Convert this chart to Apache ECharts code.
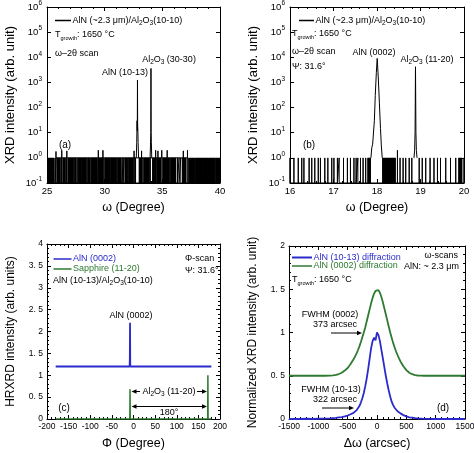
<!DOCTYPE html>
<html><head><meta charset="utf-8">
<script src="https://cdn.jsdelivr.net/npm/echarts@6/dist/echarts.min.js"></script>
<style>html,body{margin:0;padding:0;background:#fff}#c{width:474px;height:453px}</style>
</head><body><div id="c"></div>
<script>
// ---------------- DATA ----------------
// Panel (a): omega-2theta scan, AlN(10-13)/Al2O3(30-30)
const aXTicks = [25, 30, 35, 40];
const aYTickExps = [-1, 0, 1, 2, 3, 4, 5, 6];
// dense noise stretches (counts alternating 0/1) [start, end] in degrees
const aNoiseBlocks = [[25.0,25.62],[25.84,26.18],[26.34,26.62],[26.78,27.3],[27.38,27.55],[27.7,28.02],[28.12,28.42],[28.52,28.78],[28.9,29.35],[29.5,29.9],[30.02,30.45],[30.52,31.0],[31.1,31.42],[31.75,31.95],[32.05,32.48],[32.58,32.72],[32.96,33.25],[33.38,33.9],[34.12,34.35],[34.48,34.9],[35.05,35.6],[35.7,36.18],[36.72,37.05],[37.25,37.75],[37.85,38.35],[38.45,38.95],[39.05,39.55],[39.62,40.0]];
// isolated single counts (value 1)
const aNoiseSingles = [25.7, 25.78, 26.25, 26.7, 27.34, 27.62, 28.07, 28.47, 28.85, 29.42, 29.45, 29.95, 30.48, 31.05, 31.5, 31.6, 31.68, 32.0, 32.53, 33.32, 33.95, 34.4, 34.42, 34.98, 35.65, 36.3, 36.45, 36.6, 36.82, 37.15, 37.8, 38.4, 39.0, 39.58];
// isolated spikes above 1 count [deg, counts]
const aSpikes = [[25.78,1.8],[26.28,2.0],[26.72,1.9],[29.45,2.0],[29.85,2.0],[32.55,1.9],[33.2,1.9],[34.42,2.0],[34.62,1.9],[34.95,2.0],[35.42,2.0],[36.82,1.9],[37.18,2.0]];
const aPeakAlN = [[32.74,1],[32.78,4],[32.81,30],[32.83,12],[32.845,1250],[32.86,20],[32.88,12],[32.9,4],[32.94,1]];
const aPeakAl2O3 = [[33.94,1],[33.97,3],[34.0,10],[34.015,3600],[34.03,10],[34.05,4],[34.08,1]];

// Panel (b): omega-2theta scan at Psi 31.6
const bXTicks = [16, 17, 18, 19, 20];
const bNoiseBlocks = [[17.78,17.86],[18.12,18.43],[19.87,19.96]];
const bNoiseSingles = [16.0, 16.09, 16.19, 16.27, 16.32, 16.44, 16.5, 16.57, 16.65, 16.7, 16.8, 16.87, 16.96, 17.01, 17.09, 17.13, 17.23, 17.32, 17.39, 17.47, 17.52, 17.56, 17.62, 17.68, 17.74, 18.47, 18.53, 18.6, 18.66, 18.74, 18.8, 18.97, 19.04, 19.12, 19.22, 19.31, 19.39, 19.46, 19.58, 19.69, 19.81, 20.0];
const bSpikes = [[18.47,2.0]];
const bPeakAlN = [[17.86,1],[17.88,2.5],[17.9,3.5],[17.92,4],[17.94,30],[17.96,300],[17.985,2500],[18.005,9000],[18.03,1500],[18.055,150],[18.08,15],[18.1,3],[18.12,1]];
const bPeakAl2O3 = [[18.85,1],[18.865,2],[18.875,10],[18.885,4200],[18.895,10],[18.905,2],[18.92,1]];

// Panel (c): Phi scans
const cXTicks = [-200, -150, -100, -50, 0, 50, 100, 150, 200];
const cYTickLabels = ['0', '0. 5', '1', '1. 5', '2', '2. 5', '3', '3. 5', '4'];
const cAlN = [[-180,1.2],[-9,1.2],[-8.5,1.38],[-8,2.2],[-7.5,1.2],[180,1.2]];
const cSapphire = [[-180,0],[-8.5,0],[-8,0.68],[-7.5,0],[171.5,0],[172,1.0],[172.5,0],[180,0]];

// Panel (d): omega rocking curves (arcsec)
const dXTicks = [-1500, -1000, -500, 0, 500, 1000, 1500];
const dYTickLabels = ['0', '0. 5', '1', '1. 5', '2'];
const dOmega = [-1500,-1400,-1300,-1200,-1100,-1000,-900,-800,-750,-700,-650,-600,-550,-500,-450,-400,-375,-350,-325,-300,-275,-250,-225,-200,-175,-150,-125,-100,-75,-50,-25,0,25,50,75,100,125,150,175,200,225,250,275,300,325,350,375,400,450,500,550,600,650,700,750,800,900,1000,1100,1200,1300,1400,1500];
const d1013 = [0,0,0,0.003,0,0.003,0.005,0.008,0.01,0.012,0.018,0.022,0.03,0.04,0.055,0.07,0.085,0.1,0.125,0.15,0.19,0.24,0.3,0.38,0.47,0.58,0.7,0.82,0.9,0.94,0.91,1.0,0.97,0.9,0.8,0.7,0.6,0.5,0.41,0.33,0.26,0.2,0.16,0.13,0.11,0.09,0.075,0.065,0.045,0.03,0.02,0.015,0.01,0.006,0.004,0.002,0.002,0,0,0,0,0,0];
const d0002 = [0.5,0.5,0.5,0.5,0.5,0.5,0.5,0.502,0.505,0.51,0.52,0.535,0.56,0.59,0.635,0.69,0.72,0.755,0.795,0.84,0.89,0.945,1.0,1.06,1.13,1.2,1.27,1.34,1.4,1.45,1.48,1.5,1.49,1.46,1.41,1.35,1.28,1.21,1.14,1.07,1.0,0.94,0.88,0.83,0.78,0.74,0.7,0.665,0.61,0.565,0.535,0.518,0.508,0.503,0.501,0.5,0.5,0.5,0.5,0.5,0.5,0.5,0.5];

// ---------------- STYLE / BUILD ----------------
const FONT = '"Liberation Sans", Arial, sans-serif';
const BLUE = '#2b2bcc';
const GREEN = '#2e7a30';

// layout of the two log panels; the noise floor band (0..1 count, drawn between 10^-1 and 10^0)
const LOG_TOP = 7, LOG_H = 176, DECADES = 7;
const BAND_TOP = LOG_TOP + LOG_H * (DECADES - 1) / DECADES, BAND_H = LOG_H / DECADES;

function singlesLine(blocks, singles) {
  return singles.filter(x => !blocks.some(([s, e]) => x > s && x < e))
    .sort((p, q) => p - q).flatMap(x => [[x, 0], [x, 1], [x, 0]]);
}
function spikeLine(spikes, base) {
  return spikes.slice().sort((p, q) => p[0] - q[0]).flatMap(([x, h]) => [[x, base], [x, h], [x, base]]);
}

const lblBase = {color: '#000', fontFamily: FONT};
function xAxes(gi, min, max, interval, name, fontSize, minorSplit) {
  const common = {type: 'value', gridIndex: gi, min, max, interval,
    axisLine: {show: true, onZero: false, lineStyle: {color: '#000', width: 1}},
    axisTick: {show: true, inside: true, length: 4, lineStyle: {color: '#000'}},
    minorTick: {show: true, splitNumber: minorSplit, length: 2, lineStyle: {color: '#000'}},
    splitLine: {show: false}, minorSplitLine: {show: false}};
  return [
    Object.assign({}, common, {position: 'bottom', name, nameLocation: 'middle', nameGap: 18, nameMoveOverlap: false,
      nameTextStyle: {color: '#000', fontFamily: FONT, fontSize: 12.5},
      axisLabel: Object.assign({fontSize, margin: 3, formatter: v => String(v)}, lblBase)}),
    Object.assign({}, common, {position: 'top', axisLabel: {show: false}})
  ];
}
function yAxesLinear(gi, min, max, interval, name, labels, fontSize) {
  const common = {type: 'value', gridIndex: gi, min, max, interval,
    axisLine: {show: true, onZero: false, lineStyle: {color: '#000', width: 1}},
    axisTick: {show: true, inside: true, length: 4, lineStyle: {color: '#000'}},
    minorTick: {show: true, splitNumber: 5, length: 2, lineStyle: {color: '#000'}},
    splitLine: {show: false}};
  return [
    Object.assign({}, common, {position: 'left', name, nameLocation: 'middle', nameGap: 30, nameMoveOverlap: false,
      nameTextStyle: {color: '#000', fontFamily: FONT, fontSize: 12},
      axisLabel: Object.assign({fontSize, margin: 4, formatter: v => labels[Math.round((v - min) / interval)]}, lblBase)}),
    Object.assign({}, common, {position: 'right', axisLabel: {show: false}})
  ];
}
function yAxesLog(gi, name) {
  const common = {type: 'log', logBase: 10, gridIndex: gi, min: 0.1, max: 1e6,
    axisLine: {show: true, onZero: false, lineStyle: {color: '#000', width: 1}},
    axisTick: {show: true, inside: true, length: 4, lineStyle: {color: '#000'}},
    splitLine: {show: false}};
  return [
    Object.assign({}, common, {position: 'left', name, nameLocation: 'middle', nameGap: 30, nameMoveOverlap: false,
      nameTextStyle: {color: '#000', fontFamily: FONT, fontSize: 13},
      axisLabel: Object.assign({margin: 5,
        formatter: v => { const e = Math.round(Math.log10(v)); return aYTickExps.includes(e) ? '{b|10}{s|' + e + '}' : ''; },
        rich: {b: {fontSize: 9.5, fontFamily: FONT, color: '#000', lineHeight: 14},
               s: {fontSize: 6.5, fontFamily: FONT, color: '#000', lineHeight: 8, verticalAlign: 'top'}}}, lblBase)}),
    Object.assign({}, common, {position: 'right', axisLabel: {show: false}})
  ];
}
// hidden axes for the noise-floor band grids
function bandAxes(gi, min, max) {
  return {x: {type: 'value', gridIndex: gi, min, max, show: false},
          y: {type: 'value', gridIndex: gi, min: 0, max: 1, show: false}};
}
const bandA = bandAxes(4, aXTicks[0], aXTicks[aXTicks.length - 1]);
const bandB = bandAxes(5, bXTicks[0], bXTicks[bXTicks.length - 1]);

const xAxis = [].concat(
  xAxes(0, aXTicks[0], aXTicks[aXTicks.length - 1], 5, 'ω (Degree)', 9.5, 5),
  xAxes(1, bXTicks[0], bXTicks[bXTicks.length - 1], 1, 'ω (Degree)', 9.5, 5),
  xAxes(2, cXTicks[0], cXTicks[cXTicks.length - 1], 50, 'Φ (Degree)', 8.5, 5),
  xAxes(3, dXTicks[0], dXTicks[dXTicks.length - 1], 500, 'Δω (arcsec)', 8.5, 5),
  [bandA.x, bandB.x]
);
const yAxis = [].concat(
  yAxesLog(0, 'XRD intensity (arb. unit)'),
  yAxesLog(1, 'XRD intensity (arb. unit)'),
  yAxesLinear(2, 0, 4, 0.5, 'HRXRD intensity (arb. units)', cYTickLabels, 8.5),
  yAxesLinear(3, 0, 2, 0.5, 'Normalized XRD intensity (arb. unit)', dYTickLabels, 8.5),
  [bandA.y, bandB.y]
);

function blackLine(xi, yi, data) {
  return {type: 'line', xAxisIndex: xi, yAxisIndex: yi, data, symbol: 'none',
    lineStyle: {color: '#000', width: 1}, z: 3};
}
// noise floor: isolated counts as vertical lines, dense stretches as filled rectangles (0..1 count)
function noiseSingles(xi, yi, blocks, singles) {
  const s = blackLine(xi, yi, singlesLine(blocks, singles));
  s.markArea = {silent: true, itemStyle: {color: '#000', opacity: 1, borderWidth: 0}, label: {show: false},
    data: blocks.map(([a, b]) => [{xAxis: a, yAxis: 0}, {xAxis: b, yAxis: 1}])};
  return s;
}
function noiseBlocks(xi, yi, blocks) {
  return {type: 'custom', xAxisIndex: xi, yAxisIndex: yi,
    data: blocks.map(([s, e]) => [s, e, 1]),
    encode: {x: [0, 1], y: 2},
    renderItem: (params, api) => {
      const p1 = api.coord([api.value(0), 1]);
      const p2 = api.coord([api.value(1), 0]);
      return {type: 'rect', shape: {x: p1[0], y: p1[1], width: Math.max(p2[0] - p1[0], 1), height: p2[1] - p1[1]},
        style: {fill: '#000'}};
    }};
}
const series = [
  noiseBlocks(8, 8, aNoiseBlocks),
  noiseSingles(8, 8, aNoiseBlocks, aNoiseSingles),
  blackLine(0, 0, spikeLine(aSpikes, 1)),
  blackLine(0, 0, aPeakAlN),
  blackLine(0, 0, aPeakAl2O3),
  noiseBlocks(9, 9, bNoiseBlocks),
  noiseSingles(9, 9, bNoiseBlocks, bNoiseSingles),
  blackLine(2, 2, spikeLine(bSpikes, 1)),
  blackLine(2, 2, bPeakAlN),
  blackLine(2, 2, bPeakAl2O3),
  {type: 'line', name: 'AlN (0002)', xAxisIndex: 4, yAxisIndex: 4, data: cAlN, symbol: 'none', lineStyle: {color: BLUE, width: 1.8}},
  {type: 'line', name: 'Sapphire (11-20)', xAxisIndex: 4, yAxisIndex: 4, data: cSapphire, symbol: 'none', lineStyle: {color: GREEN, width: 1.5}},
  {type: 'line', name: 'AlN (0002) diffraction', xAxisIndex: 6, yAxisIndex: 6, data: dOmega.map((x, i) => [x, d0002[i]]), symbol: 'none', lineStyle: {color: GREEN, width: 1.8}},
  {type: 'line', name: 'AlN (10-13) diffraction', xAxisIndex: 6, yAxisIndex: 6, data: dOmega.map((x, i) => [x, d1013[i]]), symbol: 'none', lineStyle: {color: BLUE, width: 1.8}}
];

// ---------------- ANNOTATIONS ----------------
const RICH = {
  s: {fontSize: 6.5, fontFamily: FONT, lineHeight: 7, verticalAlign: 'bottom'},
  g: {fontSize: 5.5, fontFamily: FONT, lineHeight: 6, verticalAlign: 'bottom'}
};
function txt(x, y, text, o) {
  o = o || {};
  const align = o.align || 'left';
  return {type: 'text', x, y, z: 100, silent: true,
    style: {text, fill: o.fill || '#000', fontSize: o.fontSize || 9, fontFamily: FONT, lineHeight: 12,
      align, textAlign: align, verticalAlign: 'middle', textVerticalAlign: 'middle', rich: RICH}};
}
function seg(x1, y1, x2, y2, color, w) {
  return {type: 'line', z: 100, silent: true, shape: {x1, y1, x2, y2}, style: {stroke: color || '#000', lineWidth: w || 1}};
}
function head(x, y, dir) { // dir +1 right, -1 left
  return {type: 'polygon', z: 100, silent: true, shape: {points: [[x, y], [x - dir * 5, y - 2.2], [x - dir * 5, y + 2.2]]}, style: {fill: '#000'}};
}
function arrow(x1, x2, y) { return [seg(x1, y, x2 - Math.sign(x2 - x1) * 3, y), head(x2, y, Math.sign(x2 - x1))]; }

const LEG = 'AlN (~2.3 μm)/Al{s|2}O{s|3}(10-10)';
const TG = 'T{g|growth}: 1650 °C';
const graphic = [].concat(
  // (a)
  seg(55, 20.5, 71, 20.5, '#000', 1.5), txt(72.5, 20.5, LEG), txt(55, 35, TG), txt(55, 54, 'ω–2θ scan'),
  txt(148, 73, 'AlN (10-13)', {align: 'right'}), txt(169, 60, 'Al{s|2}O{s|3} (30-30)', {align: 'center'}),
  txt(65, 145, '(a)', {align: 'center', fontSize: 10}),
  // (b)
  seg(299, 20.5, 314, 20.5, '#000', 1.5), txt(315.5, 20.5, LEG), txt(292, 34, TG), txt(292, 52, 'ω–2θ scan'),
  txt(292, 66.5, 'Ψ: 31.6°'), txt(374, 53, 'AlN (0002)', {align: 'center'}),
  txt(427, 59.5, 'Al{s|2}O{s|3} (11-20)', {align: 'center'}), txt(309, 145, '(b)', {align: 'center', fontSize: 10}),
  // (c)
  seg(53.5, 259, 71.5, 259, BLUE, 1.5), txt(73, 259, 'AlN (0002)', {fill: BLUE}),
  seg(53.5, 269, 71.5, 269, GREEN, 1.5), txt(73, 269, 'Sapphire (11-20)', {fill: GREEN}),
  txt(53, 281, 'AlN (10-13)/Al{s|2}O{s|3}(10-10)'),
  txt(185, 258.5, 'Φ-scan'), txt(185, 271, 'Ψ: 31.6°'),
  txt(131, 316, 'AlN (0002)', {align: 'center'}),
  arrow(140, 131.5, 391.5), arrow(197, 207, 391.5),
  txt(169, 391.5, 'Al{s|2}O{s|3} (11-20)', {align: 'center'}),
  seg(134.5, 406.5, 204, 406.5), head(131.5, 406.5, -1), head(207, 406.5, 1),
  txt(169, 413, '180°', {align: 'center'}),
  txt(64, 408, '(c)', {align: 'center', fontSize: 10}),
  // (d)
  seg(292, 257.5, 312, 257.5, BLUE, 2), txt(313.5, 257.5, 'AlN (10-13) diffraction', {fill: BLUE}),
  seg(292, 266, 312, 266, GREEN, 1.5), txt(313.5, 266, 'AlN (0002) diffraction', {fill: GREEN}),
  txt(292, 280, TG),
  txt(458, 256, 'ω-scans', {align: 'right'}), txt(459, 267, 'AlN: ~ 2.3 μm', {align: 'right'}),
  txt(330, 315, 'FWHM (0002)', {align: 'center'}), txt(335, 325, '373 arcsec', {align: 'center'}),
  arrow(331, 362, 333),
  txt(331, 389.5, 'FWHM (10-13)', {align: 'center'}), txt(335, 399.5, '322 arcsec', {align: 'center'}),
  arrow(322, 354, 408),
  txt(443, 408, '(d)', {align: 'center', fontSize: 10})
);

const chart = echarts.init(document.getElementById('c'), null, {renderer: 'canvas'});
chart.setOption({
  animation: false,
  backgroundColor: '#fff',
  grid: [
    {left: 47, top: LOG_TOP, width: 173, height: LOG_H, outerBoundsMode: 'none'},
    {left: 290, top: LOG_TOP, width: 174, height: LOG_H, outerBoundsMode: 'none'},
    {left: 47, top: 244, width: 173, height: 175, outerBoundsMode: 'none'},
    {left: 289, top: 246, width: 176, height: 173, outerBoundsMode: 'none'},
    {left: 47, top: BAND_TOP, width: 173, height: BAND_H, outerBoundsMode: 'none'},
    {left: 290, top: BAND_TOP, width: 174, height: BAND_H, outerBoundsMode: 'none'}
  ],
  xAxis, yAxis, series
});
chart.setOption({graphic});
</script></body></html>
